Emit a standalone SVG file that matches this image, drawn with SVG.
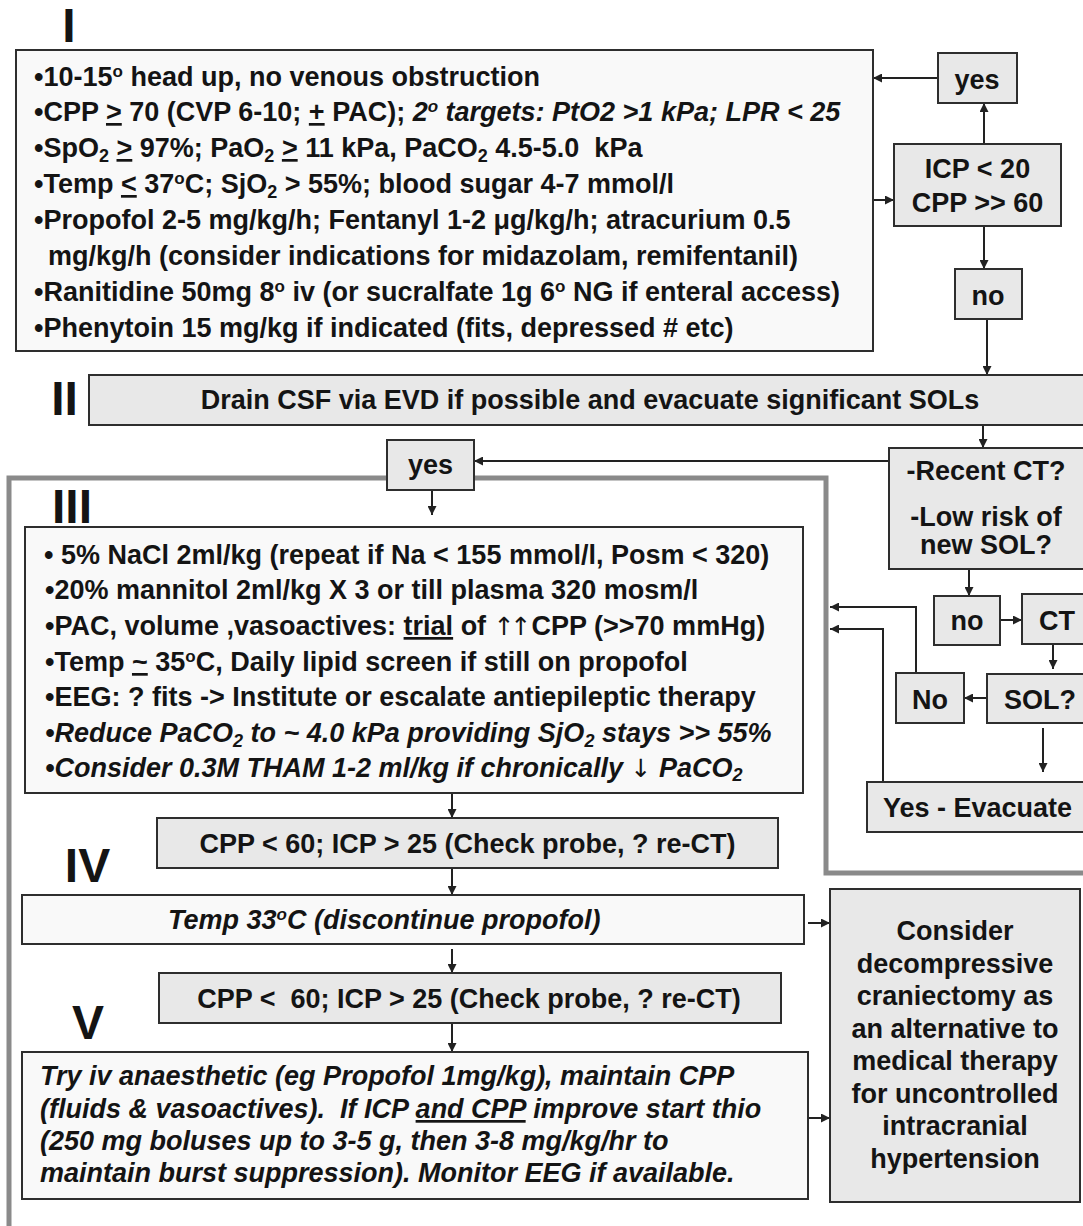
<svg xmlns="http://www.w3.org/2000/svg" width="1083" height="1226" viewBox="0 0 1083 1226">
<defs>
<style>
text{font-family:"Liberation Sans",Arial,Helvetica,sans-serif;font-weight:bold;font-size:27px;fill:#141414;white-space:pre}
.i{font-style:italic}
.lbl{font-size:48px;text-anchor:middle}
.c{text-anchor:middle}
.box{stroke:#2e2e2e;stroke-width:2}
.lt{fill:#f9f9f9}
.gr{fill:#e8e8e8}
.cn{fill:none;stroke:#222;stroke-width:2}
.frame{fill:none;stroke:#8a8a8a;stroke-width:5}
.sup{font-size:17px}
.sub{font-size:18px}
.u{text-decoration:underline}
.ar{font-family:"DejaVu Sans",sans-serif;font-weight:normal;font-style:normal;font-size:25px;letter-spacing:-4px}
</style>
<marker id="ah" viewBox="0 0 10 10" refX="10" refY="5" markerWidth="9" markerHeight="9" markerUnits="userSpaceOnUse" orient="auto"><path d="M0,0 L10,5 L0,10 z" fill="#222"/></marker>
</defs>
<rect x="0" y="0" width="1083" height="1226" fill="#ffffff"/>

<g id="labels">
<text class="lbl" x="69" y="42">I</text>
<text class="lbl" x="64.5" y="415">II</text>
<text class="lbl" x="72" y="523">III</text>
<text class="lbl" x="87.5" y="882">IV</text>
<text class="lbl" x="88" y="1039">V</text>
</g>

<path id="frame" class="frame" d="M9,1226 V478 H826 V873 H1083"/>

<g id="connectors">
<path class="cn" marker-end="url(#ah)" d="M938,78 H873"/>
<path class="cn" marker-end="url(#ah)" d="M984,144 V103"/>
<path class="cn" marker-end="url(#ah)" d="M873,200 H894"/>
<path class="cn" marker-end="url(#ah)" d="M984,226 V269"/>
<path class="cn" marker-end="url(#ah)" d="M987,319 V375"/>
<path class="cn" marker-end="url(#ah)" d="M983,425 V448"/>
<path class="cn" marker-end="url(#ah)" d="M889,461 H474"/>
<path class="cn" marker-end="url(#ah)" d="M432,490 V515"/>
<path class="cn" marker-end="url(#ah)" d="M969,569 V596"/>
<path class="cn" marker-end="url(#ah)" d="M1000,620 H1022"/>
<path class="cn" marker-end="url(#ah)" d="M1053,644 V669"/>
<path class="cn" marker-end="url(#ah)" d="M987,698 H964"/>
<path class="cn" marker-end="url(#ah)" d="M1043,728 V772"/>
<path class="cn" marker-end="url(#ah)" d="M916,673 V607 H830"/>
<path class="cn" marker-end="url(#ah)" d="M883,782 V629 H830"/>
<path class="cn" marker-end="url(#ah)" d="M452,793 V818"/>
<path class="cn" marker-end="url(#ah)" d="M452,868 V895"/>
<path class="cn" marker-end="url(#ah)" d="M452,949 V973"/>
<path class="cn" marker-end="url(#ah)" d="M452,1023 V1052"/>
<path class="cn" marker-end="url(#ah)" d="M808,923 H830"/>
<path class="cn" marker-end="url(#ah)" d="M808,1118 H830"/>
</g>

<g id="box-I">
<rect class="box lt" x="16" y="50" width="857" height="301"/>
<text x="34" y="86">•10-15<tspan class="sup" baseline-shift="9">o</tspan> head up, no venous obstruction</text>
<text x="34" y="121">•CPP <tspan class="u">&gt;</tspan> 70 (CVP 6-10; <tspan class="u">+</tspan> PAC); <tspan class="i">2<tspan class="sup" baseline-shift="9">o</tspan> targets: PtO2 &gt;1 kPa; LPR &lt; 25</tspan></text>
<text x="34" y="157">•SpO<tspan class="sub" baseline-shift="-5">2</tspan> <tspan class="u">&gt;</tspan> 97%; PaO<tspan class="sub" baseline-shift="-5">2</tspan> <tspan class="u">&gt;</tspan> 11 kPa, PaCO<tspan class="sub" baseline-shift="-5">2</tspan> 4.5-5.0  kPa</text>
<text x="34" y="193">•Temp <tspan class="u">&lt;</tspan> 37<tspan class="sup" baseline-shift="9">o</tspan>C; SjO<tspan class="sub" baseline-shift="-5">2</tspan> &gt; 55%; blood sugar 4-7 mmol/l</text>
<text x="34" y="229">•Propofol 2-5 mg/kg/h; Fentanyl 1-2 μg/kg/h; atracurium 0.5</text>
<text x="48" y="265">mg/kg/h (consider indications for midazolam, remifentanil)</text>
<text x="34" y="301">•Ranitidine 50mg 8<tspan class="sup" baseline-shift="9">o</tspan> iv (or sucralfate 1g 6<tspan class="sup" baseline-shift="9">o</tspan> NG if enteral access)</text>
<text x="34" y="337">•Phenytoin 15 mg/kg if indicated (fits, depressed # etc)</text>
</g>

<g id="yes-1">
<rect class="box gr" x="938" y="53" width="79" height="50"/>
<text class="c" x="977" y="89">yes</text>
</g>
<g id="icp-check">
<rect class="box gr" x="894" y="144" width="167" height="82"/>
<text class="c" x="977.5" y="178">ICP &lt; 20</text>
<text class="c" x="977.5" y="212">CPP &gt;&gt; 60</text>
</g>
<g id="no-1">
<rect class="box gr" x="955" y="269" width="67" height="50"/>
<text class="c" x="988" y="305">no</text>
</g>

<g id="box-II">
<rect class="box gr" x="89" y="375" width="1001" height="50"/>
<text class="c" x="590" y="409">Drain CSF via EVD if possible and evacuate significant SOLs</text>
</g>

<g id="recent-ct">
<rect class="box gr" x="889" y="448" width="200" height="121"/>
<text class="c" x="986" y="480">-Recent CT?</text>
<text class="c" x="986" y="526">-Low risk of</text>
<text class="c" x="986" y="554">new SOL?</text>
</g>

<g id="yes-2">
<rect class="box gr" x="387" y="440" width="87" height="50"/>
<text class="c" x="430.5" y="474">yes</text>
</g>

<g id="box-III">
<rect class="box lt" x="25" y="527" width="778" height="266"/>
<text x="44" y="564">• 5% NaCl 2ml/kg (repeat if Na &lt; 155 mmol/l, Posm &lt; 320)</text>
<text x="45" y="599">•20% mannitol 2ml/kg X 3 or till plasma 320 mosm/l</text>
<text x="45" y="635">•PAC, volume ,vasoactives: <tspan class="u">trial</tspan> of <tspan class="ar">↑↑</tspan><tspan dx="4">CPP (&gt;&gt;70 mmHg)</tspan></text>
<text x="45" y="671">•Temp <tspan class="u">~</tspan> 35<tspan class="sup" baseline-shift="9">o</tspan>C, Daily lipid screen if still on propofol</text>
<text x="45" y="706">•EEG: ? fits -&gt; Institute or escalate antiepileptic therapy</text>
<text class="i" x="45" y="742">•Reduce PaCO<tspan class="sub" baseline-shift="-5">2</tspan> to ~ 4.0 kPa providing SjO<tspan class="sub" baseline-shift="-5">2</tspan> stays &gt;&gt; 55%</text>
<text class="i" x="45" y="777">•Consider 0.3M THAM 1-2 ml/kg if chronically <tspan class="ar">↓</tspan><tspan dx="4"> PaCO</tspan><tspan class="sub" baseline-shift="-4">2</tspan></text>
</g>

<g id="no-2">
<rect class="box gr" x="934" y="596" width="66" height="49"/>
<text class="c" x="967" y="630">no</text>
</g>
<g id="ct">
<rect class="box gr" x="1022" y="594" width="70" height="50"/>
<text x="1039" y="630">CT</text>
</g>
<g id="sol">
<rect class="box gr" x="987" y="674" width="100" height="49"/>
<text x="1004" y="709">SOL?</text>
</g>
<g id="no-3">
<rect class="box gr" x="896" y="673" width="68" height="50"/>
<text class="c" x="930" y="709">No</text>
</g>
<g id="yes-evacuate">
<rect class="box gr" x="867" y="782" width="220" height="50"/>
<text x="883" y="817">Yes - Evacuate</text>
</g>

<g id="check-IV">
<rect class="box gr" x="157" y="818" width="621" height="50"/>
<text class="c" x="467.5" y="853">CPP &lt; 60; ICP &gt; 25 (Check probe, ? re-CT)</text>
</g>
<g id="temp-33">
<rect class="box lt" x="22" y="895" width="782" height="49"/>
<text class="i" x="168" y="929">Temp 33<tspan class="sup" baseline-shift="9">o</tspan>C (discontinue propofol)</text>
</g>
<g id="check-V">
<rect class="box gr" x="159" y="973" width="622" height="50"/>
<text class="c" x="469" y="1008">CPP &lt;  60; ICP &gt; 25 (Check probe, ? re-CT)</text>
</g>
<g id="box-V">
<rect class="box lt" x="22" y="1052" width="786" height="147"/>
<text class="i" x="40" y="1085">Try iv anaesthetic (eg Propofol 1mg/kg), maintain CPP</text>
<text class="i" x="40" y="1118">(fluids &amp; vasoactives).  If ICP <tspan class="u">and CPP</tspan> improve start thio</text>
<text class="i" x="40" y="1150">(250 mg boluses up to 3-5 g, then 3-8 mg/kg/hr to</text>
<text class="i" x="40" y="1182">maintain burst suppression). Monitor EEG if available.</text>
</g>

<g id="consider">
<rect class="box gr" x="830" y="889" width="250" height="313"/>
<text class="c" x="955" y="940">Consider</text>
<text class="c" x="955" y="972.5">decompressive</text>
<text class="c" x="955" y="1005">craniectomy as</text>
<text class="c" x="955" y="1037.5">an alternative to</text>
<text class="c" x="955" y="1070">medical therapy</text>
<text class="c" x="955" y="1102.5">for uncontrolled</text>
<text class="c" x="955" y="1135">intracranial</text>
<text class="c" x="955" y="1167.5">hypertension</text>
</g>
</svg>
